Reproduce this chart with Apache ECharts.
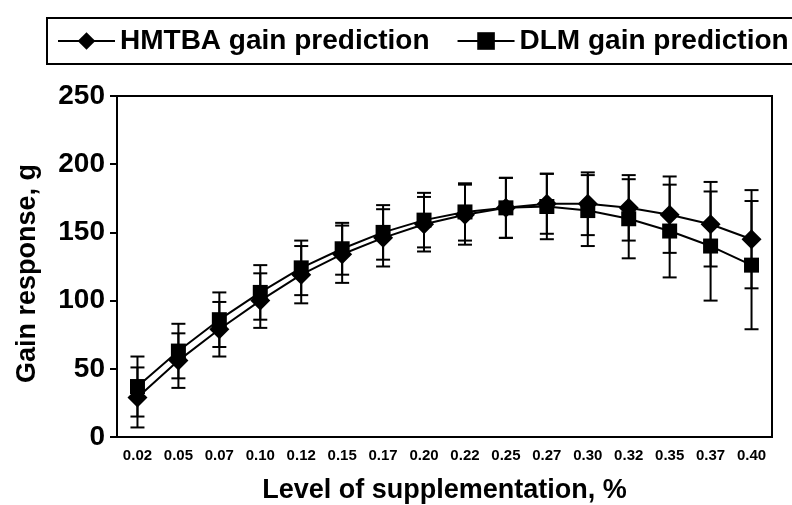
<!DOCTYPE html>
<html>
<head>
<meta charset="utf-8">
<script src="https://cdn.jsdelivr.net/npm/echarts@6/dist/echarts.min.js"></script>
<style>
  html, body { margin: 0; padding: 0; background: #fff; }
  #chart { width: 792px; height: 505px; }
</style>
</head>
<body>
<div id="chart"></div>
<script>
// level of supplementation, %
var levels = ['0.02', '0.05', '0.07', '0.10', '0.12', '0.15', '0.17', '0.20',
              '0.22', '0.25', '0.27', '0.30', '0.32', '0.35', '0.37', '0.40'];
// predicted gain response, g
var hmtba = [29, 56, 79, 100, 119, 134, 146, 156, 163, 168, 171, 171, 168, 163, 156, 145];
var dlm   = [37, 63, 86, 106, 124, 138, 150, 159, 165, 168, 169, 166, 160, 151, 140, 126];
// error bar half-length
var hmtbaErr = [22, 20, 20, 20, 21, 21, 21, 20, 22, 22, 22, 23, 24, 28, 31, 36];
var dlmErr   = [22, 20, 20, 20, 20, 19, 20, 20, 21, 22, 24, 26, 29, 34, 40, 47];
var yTicks = [0, 50, 100, 150, 200, 250];

var font = '"Liberation Sans", Arial, sans-serif';

function errData(mean, err) {
    return mean.map(function (v, i) { return [i, v - err[i], v + err[i]]; });
}

function renderErr(params, api) {
    var lo = api.coord([api.value(0), api.value(1)]);
    var hi = api.coord([api.value(0), api.value(2)]);
    var w = 7;
    var st = { stroke: '#000', lineWidth: 2 };
    return {
        type: 'group',
        children: [
            { type: 'line', shape: { x1: lo[0], y1: lo[1], x2: hi[0], y2: hi[1] }, style: st },
            { type: 'line', shape: { x1: lo[0] - w, y1: lo[1], x2: lo[0] + w, y2: lo[1] }, style: st },
            { type: 'line', shape: { x1: hi[0] - w, y1: hi[1], x2: hi[0] + w, y2: hi[1] }, style: st }
        ]
    };
}

var option = {
    animation: false,
    backgroundColor: '#fff',
    legend: {
        left: 47,
        top: 18,
        width: 900,
        padding: [9, 10],
        borderColor: '#000',
        borderWidth: 2,
        itemWidth: 57,
        itemHeight: 22,
        itemGap: 27,
        data: ['HMTBA gain prediction', 'DLM gain prediction'],
        textStyle: { fontFamily: font, fontWeight: 'bold', fontSize: 28, color: '#000' }
    },
    grid: {
        show: true,
        left: 117,
        right: 20,
        top: 96,
        bottom: 68,
        outerBoundsMode: 'none',
        borderColor: '#000',
        borderWidth: 2,
        backgroundColor: 'transparent'
    },
    xAxis: {
        type: 'category',
        data: levels,
        boundaryGap: true,
        name: 'Level of supplementation, %',
        nameLocation: 'middle',
        nameGap: 40,
        nameTextStyle: { fontFamily: font, fontWeight: 'bold', fontSize: 27, color: '#000' },
        axisLine: { lineStyle: { color: '#000', width: 2 } },
        axisTick: { length: 6, lineStyle: { color: '#000', width: 2 } },
        axisLabel: { fontFamily: font, fontWeight: 'bold', fontSize: 15, color: '#000', margin: 11, interval: 0 }
    },
    yAxis: {
        type: 'value',
        min: yTicks[0],
        max: yTicks[yTicks.length - 1],
        interval: 50,
        name: 'Gain response, g',
        nameLocation: 'middle',
        nameGap: 76,
        nameTextStyle: { fontFamily: font, fontWeight: 'bold', fontSize: 27, color: '#000', padding: [0, 14, 0, 0] },
        axisLine: { show: true, lineStyle: { color: '#000', width: 2 } },
        axisTick: { show: true, length: 7, lineStyle: { color: '#000', width: 2 } },
        splitLine: { show: false },
        axisLabel: { fontFamily: font, fontWeight: 'bold', fontSize: 28, color: '#000', margin: 12 }
    },
    series: [
        {
            name: 'HMTBA err',
            type: 'custom',
            renderItem: renderErr,
            data: errData(hmtba, hmtbaErr),
            z: 1
        },
        {
            name: 'DLM err',
            type: 'custom',
            renderItem: renderErr,
            data: errData(dlm, dlmErr),
            z: 1
        },
        {
            name: 'HMTBA gain prediction',
            type: 'line',
            data: hmtba,
            symbol: 'diamond',
            symbolSize: 20,
            itemStyle: { color: '#000' },
            lineStyle: { color: '#000', width: 2 },
            z: 3
        },
        {
            name: 'DLM gain prediction',
            type: 'line',
            data: dlm,
            symbol: 'rect',
            symbolSize: 15,
            itemStyle: { color: '#000' },
            lineStyle: { color: '#000', width: 2 },
            z: 3
        }
    ]
};

var myChart = echarts.init(document.getElementById('chart'));
myChart.setOption(option);
</script>
</body>
</html>
